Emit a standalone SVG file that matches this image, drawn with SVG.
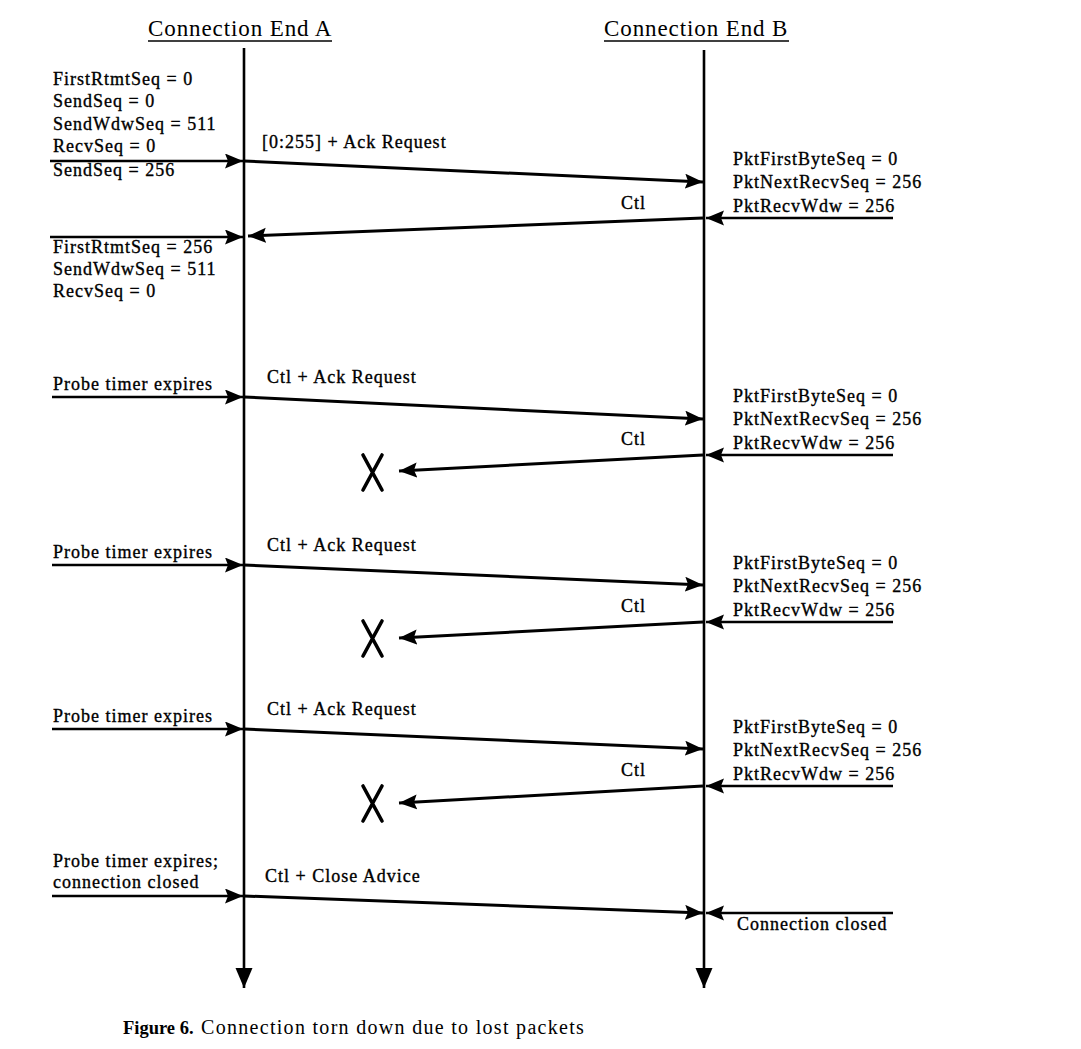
<svg xmlns="http://www.w3.org/2000/svg" width="1081" height="1049" viewBox="0 0 1081 1049">
<defs>
<style>
.t{font-family:"Liberation Serif","Times New Roman",serif;font-size:18px;letter-spacing:1px;fill:#000;stroke:#000;stroke-width:0.35}
.h{font-family:"Liberation Serif","Times New Roman",serif;font-size:23px;letter-spacing:0.9px;fill:#000}
.cap{font-family:"Liberation Serif","Times New Roman",serif;font-size:20px;letter-spacing:1.3px;fill:#000}
.capb{font-family:"Liberation Serif","Times New Roman",serif;font-size:18.5px;font-weight:bold;fill:#000}
.life{stroke:#000;stroke-width:2.6;fill:none}
.msg{stroke:#000;stroke-width:3;fill:none;marker-end:url(#ah)}
.in{stroke:#000;stroke-width:2.6;fill:none;marker-end:url(#ah)}
.ul{stroke:#000;stroke-width:1.3}
.x{stroke:#000;stroke-width:3.6;stroke-linecap:round;fill:none}
</style>
<marker id="ah" markerUnits="userSpaceOnUse" markerWidth="20" markerHeight="16" refX="18" refY="7.5" orient="auto">
<path d="M0,0 L18,7.5 L0,15 L3,7.5 z" fill="#000"/>
</marker>
<marker id="le" markerUnits="userSpaceOnUse" markerWidth="22" markerHeight="20" refX="20" refY="8.5" orient="auto">
<path d="M0,0 L20,8.5 L0,17 z" fill="#000"/>
</marker>
</defs>
<rect width="1081" height="1049" fill="#fff"/>

<g id="endA">
<text class="h" x="148" y="36">Connection End A</text>
<line class="ul" x1="148" y1="41" x2="332" y2="41"/>
<line class="life" x1="244" y1="48" x2="244" y2="988" style="marker-end:url(#le)"/>
</g>
<g id="endB">
<text class="h" x="604" y="36">Connection End B</text>
<line class="ul" x1="604" y1="41" x2="789" y2="41"/>
<line class="life" x1="704" y1="50" x2="704" y2="988" style="marker-end:url(#le)"/>
</g>

<g id="stateA1">
<text class="t" x="53" y="85">FirstRtmtSeq = 0</text>
<text class="t" x="53" y="107">SendSeq = 0</text>
<text class="t" x="53" y="130">SendWdwSeq = 511</text>
<text class="t" x="53" y="152">RecvSeq = 0</text>
<text class="t" x="53" y="176">SendSeq = 256</text>
</g>
<g id="stateA2">
<text class="t" x="53" y="253">FirstRtmtSeq = 256</text>
<text class="t" x="53" y="275">SendWdwSeq = 511</text>
<text class="t" x="53" y="297">RecvSeq = 0</text>
</g>
<g id="stateB1">
<text class="t" x="733" y="165">PktFirstByteSeq = 0</text>
<text class="t" x="733" y="188">PktNextRecvSeq = 256</text>
<text class="t" x="733" y="212">PktRecvWdw = 256</text>
</g>
<g id="stateB2">
<text class="t" x="733" y="402">PktFirstByteSeq = 0</text>
<text class="t" x="733" y="425">PktNextRecvSeq = 256</text>
<text class="t" x="733" y="449">PktRecvWdw = 256</text>
</g>
<g id="stateB3">
<text class="t" x="733" y="569">PktFirstByteSeq = 0</text>
<text class="t" x="733" y="592">PktNextRecvSeq = 256</text>
<text class="t" x="733" y="616">PktRecvWdw = 256</text>
</g>
<g id="stateB4">
<text class="t" x="733" y="733">PktFirstByteSeq = 0</text>
<text class="t" x="733" y="756">PktNextRecvSeq = 256</text>
<text class="t" x="733" y="780">PktRecvWdw = 256</text>
</g>
<g id="eventA2"><text class="t" x="53" y="390">Probe timer expires</text></g>
<g id="eventA3"><text class="t" x="53" y="558">Probe timer expires</text></g>
<g id="eventA4"><text class="t" x="53" y="722">Probe timer expires</text></g>
<g id="eventA5">
<text class="t" x="53" y="867">Probe timer expires;</text>
<text class="t" x="53" y="888">connection closed</text>
</g>
<g id="eventB5"><text class="t" x="737" y="930">Connection closed</text></g>

<g id="lost2"><path class="x" d="M363,455 L382,490 M382,455 L363,490"/></g>
<g id="lost3"><path class="x" d="M363,621 L382,656 M382,621 L363,656"/></g>
<g id="lost4"><path class="x" d="M363,786 L382,821 M382,786 L363,821"/></g>

<g id="connectors">
<line class="in" x1="50" y1="161" x2="243" y2="161"/>
<line class="msg" x1="244" y1="161" x2="703" y2="182"/>
<text class="t" x="262" y="148">[0:255] + Ack Request</text>
<line class="in" x1="893" y1="218" x2="706" y2="218"/>
<line class="msg" x1="703" y1="218" x2="248" y2="236"/>
<text class="t" x="621" y="209">Ctl</text>
<line class="in" x1="50" y1="237" x2="243" y2="237"/>

<line class="in" x1="52" y1="397" x2="243" y2="397"/>
<line class="msg" x1="244" y1="397" x2="703" y2="419"/>
<text class="t" x="267" y="383">Ctl + Ack Request</text>
<line class="in" x1="893" y1="455" x2="706" y2="455"/>
<line class="msg" x1="703" y1="455" x2="399" y2="471"/>
<text class="t" x="621" y="445">Ctl</text>

<line class="in" x1="52" y1="565" x2="243" y2="565"/>
<line class="msg" x1="244" y1="565" x2="703" y2="585"/>
<text class="t" x="267" y="551">Ctl + Ack Request</text>
<line class="in" x1="893" y1="622" x2="706" y2="622"/>
<line class="msg" x1="703" y1="622" x2="399" y2="638"/>
<text class="t" x="621" y="612">Ctl</text>

<line class="in" x1="52" y1="729" x2="243" y2="729"/>
<line class="msg" x1="244" y1="729" x2="703" y2="749"/>
<text class="t" x="267" y="715">Ctl + Ack Request</text>
<line class="in" x1="893" y1="786" x2="706" y2="786"/>
<line class="msg" x1="703" y1="786" x2="399" y2="803"/>
<text class="t" x="621" y="776">Ctl</text>

<line class="in" x1="52" y1="896" x2="243" y2="896"/>
<line class="msg" x1="244" y1="896" x2="703" y2="913"/>
<text class="t" x="265" y="882">Ctl + Close Advice</text>
<line class="in" x1="893" y1="913" x2="706" y2="913"/>
</g>

<g id="caption">
<text class="capb" x="123" y="1034">Figure 6.</text>
<text class="cap" x="201" y="1034">Connection torn down due to lost packets</text>
</g>
</svg>
